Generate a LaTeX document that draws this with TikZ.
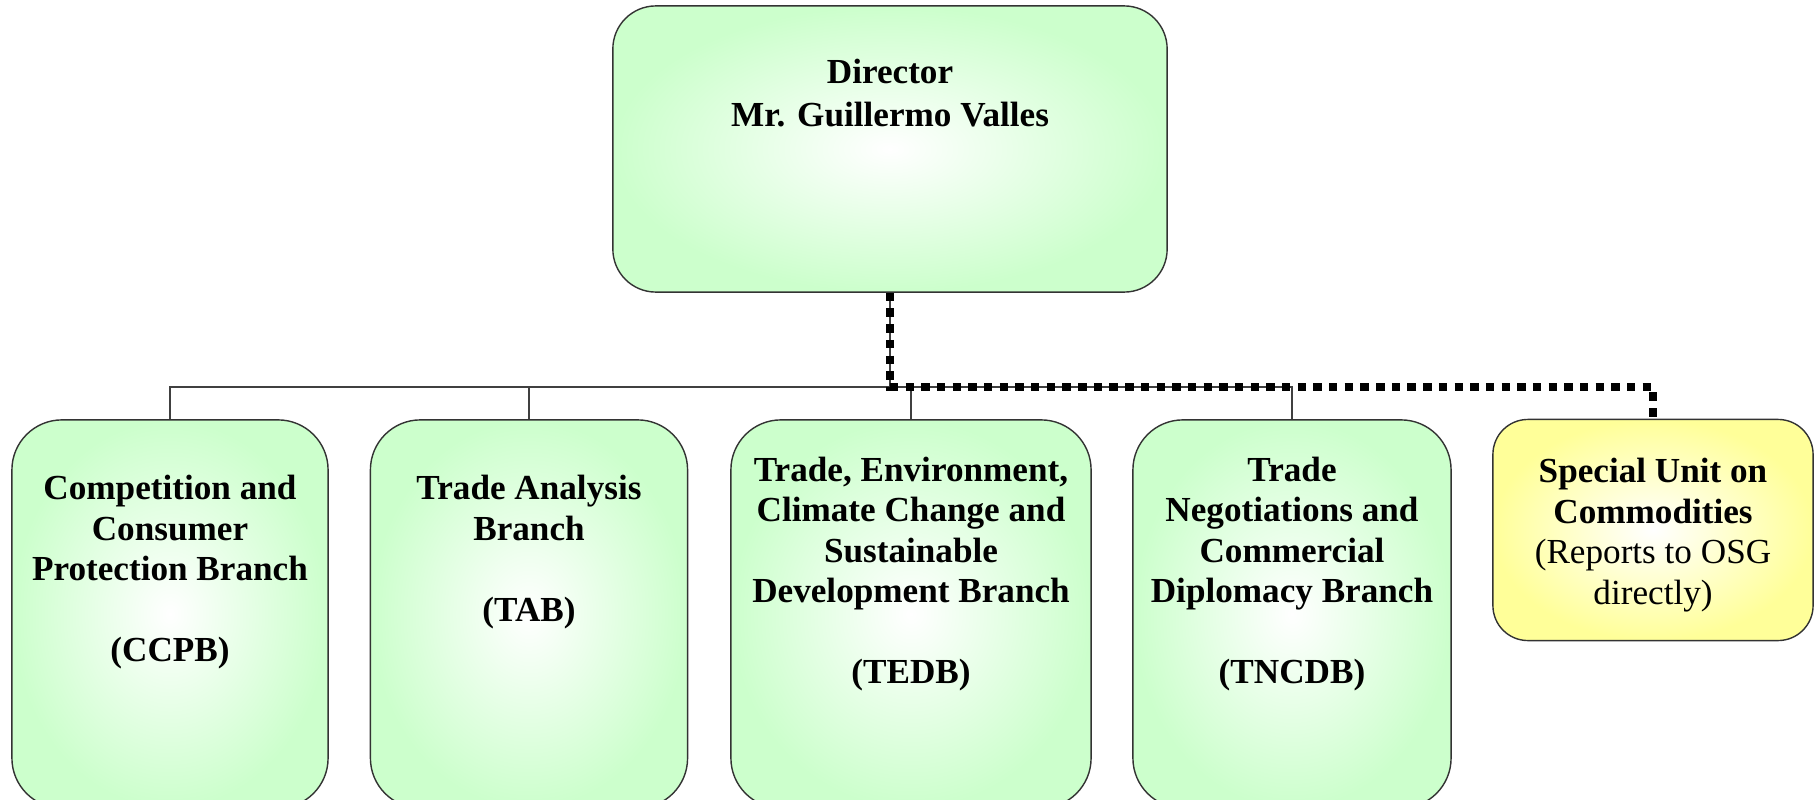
\documentclass[tikz,border=0pt]{standalone}
\usepackage{fontspec}
\setmainfont{Liberation Serif}
\usepackage{tikz}
\definecolor{unitgreen}{HTML}{CCFFCC}
\definecolor{unityellow}{HTML}{FFFF99}
\begin{document}
\begin{tikzpicture}[x=0.01cm,y=-0.01cm,
    unitbox/.style={draw=black!80, line width=0.4pt, inner sep=0pt,
      shading=radial, inner color=white, outer color=unitgreen},
    branchbox/.style={unitbox, minimum height=3.88cm, rounded corners=0.5cm},
    unittext/.style={align=center, inner sep=0pt, font=\fontsize{10}{11.5}\selectfont\bfseries},
    tree/.style={draw=black!75, line width=0.4pt},
    dotlink/.style={draw=black, line width=2.4pt, dash pattern=on 2.4pt off 2.06pt}]
  \useasboundingbox (0,0) rectangle (1820,800);
  % boxes
  \node[unitbox, minimum width=5.54cm, minimum height=2.86cm, rounded corners=0.43cm] (dir) at (890,149) {};
  \node[branchbox, minimum width=3.16cm] (ccpb) at (170,614) {};
  \node[branchbox, minimum width=3.17cm] (tab) at (529,614) {};
  \node[branchbox, minimum width=3.60cm] (tedb) at (911,614) {};
  \node[branchbox, minimum width=3.18cm] (tncdb) at (1292,614) {};
  \node[unitbox, outer color=unityellow, minimum width=3.20cm, minimum height=2.21cm, rounded corners=0.35cm] (suc) at (1653,530) {};
  % texts
  \node[unittext, font=\fontsize{10}{12}\selectfont\bfseries] (dirtext) at (890,93) {Director\\Mr. Guillermo Valles};
  \node[unittext] (ccpbtext) at (170,572) {Competition and\\Consumer\\Protection Branch\\[11.5pt](CCPB)};
  \node[unittext] (tabtext) at (529,552) {Trade Analysis\\Branch\\[11.5pt](TAB)};
  \node[unittext] (tedbtext) at (911,574) {Trade, Environment,\\Climate Change and\\Sustainable\\Development Branch\\[11.5pt](TEDB)};
  \node[unittext] (tncdbtext) at (1292,574) {Trade\\Negotiations and\\Commercial\\Diplomacy Branch\\[11.5pt](TNCDB)};
  \node[unittext] (suctext) at (1653,535) {Special Unit on\\Commodities\\{\mdseries (Reports to OSG}\\{\mdseries directly)}};
  % connectors
  \coordinate (bus) at (0,387);
  \draw[tree] (dir.south) -- (dir.south |- bus);
  \draw[tree] (ccpb.north) |- (bus -| tncdb.north) -- (tncdb.north);
  \foreach \b in {tab,tedb}{\draw[tree] (\b.north) -- (\b.north |- bus);}
  \draw[dotlink] (dir.south) |- (bus -| suc.north) -- (suc.north);
\end{tikzpicture}
\end{document}
